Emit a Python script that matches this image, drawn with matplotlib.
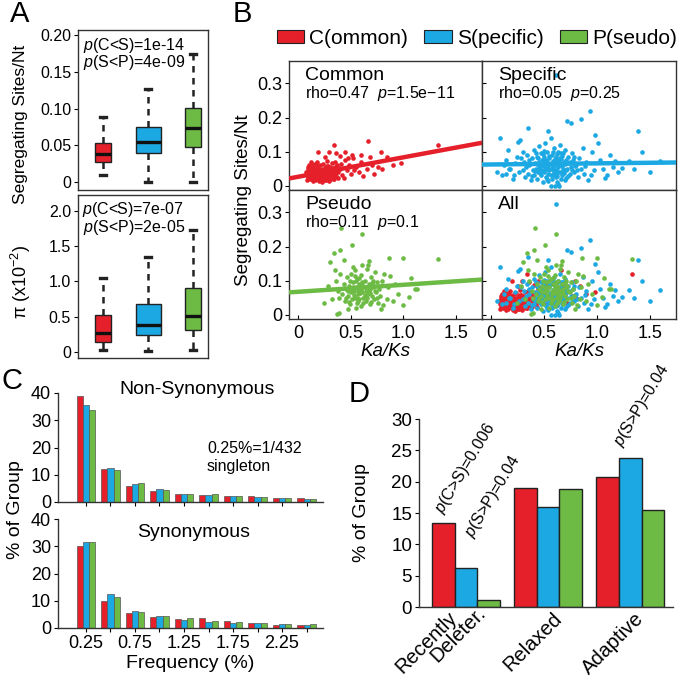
import numpy as np
import matplotlib
matplotlib.use("Agg")
import matplotlib.pyplot as plt
from matplotlib.patches import Patch
from matplotlib.transforms import ScaledTranslation

plt.rcParams['font.family'] = ['Liberation Sans', 'DejaVu Sans']
plt.rcParams['mathtext.fontset'] = 'custom'
plt.rcParams['mathtext.rm'] = 'Liberation Sans'
plt.rcParams['mathtext.it'] = 'Liberation Sans:italic'

RED = '#E5202A'
BLUE = '#1CA8E3'
GREEN = '#6DBB45'
COLORS = [RED, BLUE, GREEN]

# ---- panel A : box plot stats (q1, median, q3, whisker low, whisker high)
groups = ['C', 'S', 'P']
seg_q1 = [0.027, 0.040, 0.047]
seg_med = [0.038, 0.055, 0.073]
seg_q3 = [0.053, 0.075, 0.101]
seg_lo = [0.009, 0.0, 0.0]
seg_hi = [0.089, 0.127, 0.174]
seg_pvals = ['$\\it{p}$(C<S)=1e-14', '$\\it{p}$(S<P)=4e-09']

pi_q1 = [0.14, 0.24, 0.31]
pi_med = [0.27, 0.38, 0.51]
pi_q3 = [0.52, 0.68, 0.90]
pi_lo = [0.03, 0.02, 0.03]
pi_hi = [1.04, 1.34, 1.72]
pi_pvals = ['$\\it{p}$(C<S)=7e-07', '$\\it{p}$(S<P)=2e-05']
box_widths = [0.36, 0.56, 0.36]

# ---- panel B : Ka/Ks vs segregating sites/Nt
common_ka = [0.08, 0.09, 0.10, 0.10, 0.11, 0.12, 0.12, 0.13, 0.14, 0.14, 0.15, 0.15, 0.16, 0.16, 0.17, 0.17,
             0.18, 0.18, 0.19, 0.19, 0.20, 0.20, 0.21, 0.21, 0.22, 0.22, 0.23, 0.23, 0.24, 0.24, 0.25, 0.25,
             0.26, 0.26, 0.27, 0.27, 0.28, 0.28, 0.29, 0.29, 0.30, 0.30, 0.31, 0.31, 0.32, 0.32, 0.33, 0.33,
             0.34, 0.35, 0.35, 0.12, 0.18, 0.27, 0.09, 0.36, 0.38, 0.37, 0.14, 0.22, 0.11, 0.13, 0.20, 0.24,
             0.28, 0.31, 0.16, 0.26, 0.33, 0.19,
             0.07, 0.08, 0.09, 0.10, 0.11, 0.12, 0.13, 0.13, 0.15, 0.16, 0.17, 0.18, 0.19, 0.20, 0.21, 0.22,
             0.23, 0.24, 0.25, 0.26, 0.27, 0.28, 0.29, 0.30, 0.31, 0.32, 0.33, 0.34, 0.10, 0.14, 0.18, 0.22,
             0.26, 0.30, 0.16, 0.24, 0.21, 0.29, 0.36, 0.38, 0.39, 0.35,
             0.40, 0.42, 0.44, 0.46, 0.48, 0.50, 0.52, 0.55, 0.58, 0.60, 0.62, 0.65, 0.68, 0.70, 0.72, 0.76,
             0.80, 0.84, 0.90, 0.98, 0.43, 0.53, 0.41,
             0.19, 0.29, 0.34, 0.40, 0.44, 0.51, 0.60, 0.66, 0.79, 1.33, 0.25, 0.36, 0.47]
common_seg = [0.030, 0.022, 0.035, 0.045, 0.018, 0.028, 0.052, 0.038, 0.024, 0.060, 0.032, 0.044, 0.015, 0.027, 0.050, 0.036,
              0.021, 0.041, 0.030, 0.056, 0.012, 0.025, 0.047, 0.035, 0.019, 0.029, 0.040, 0.062, 0.024, 0.033, 0.052, 0.016,
              0.038, 0.028, 0.045, 0.021, 0.034, 0.058, 0.026, 0.042, 0.018, 0.031, 0.048, 0.037, 0.024, 0.065, 0.030, 0.043,
              0.020, 0.035, 0.055, 0.070, 0.068, 0.072, 0.055, 0.027, 0.040, 0.060, 0.012, 0.011, 0.040, 0.047, 0.033, 0.044,
              0.048, 0.026, 0.037, 0.054, 0.052, 0.019,
              0.040, 0.015, 0.048, 0.027, 0.032, 0.040, 0.020, 0.055, 0.050, 0.042, 0.025, 0.033, 0.045, 0.038, 0.022, 0.050,
              0.030, 0.043, 0.027, 0.048, 0.058, 0.020, 0.035, 0.055, 0.025, 0.040, 0.018, 0.050, 0.060, 0.048, 0.058, 0.036,
              0.015, 0.040, 0.062, 0.020, 0.060, 0.014, 0.045, 0.022, 0.052, 0.068,
              0.050, 0.030, 0.075, 0.045, 0.060, 0.035, 0.082, 0.055, 0.040, 0.070, 0.028, 0.050, 0.085, 0.060, 0.035, 0.055,
              0.050, 0.085, 0.060, 0.065, 0.022, 0.045, 0.062,
              0.100, 0.100, 0.120, 0.088, 0.100, 0.090, 0.090, 0.130, 0.100, 0.120, 0.085, 0.095, 0.080]

specific_ka = [0.30, 0.31, 0.32, 0.33, 0.34, 0.35, 0.36, 0.37, 0.38, 0.39, 0.40, 0.40, 0.41, 0.42, 0.43, 0.43,
               0.44, 0.45, 0.45, 0.46, 0.47, 0.47, 0.48, 0.48, 0.49, 0.49, 0.50, 0.50, 0.51, 0.51, 0.52, 0.52,
               0.53, 0.53, 0.54, 0.54, 0.55, 0.55, 0.56, 0.56, 0.57, 0.57, 0.58, 0.58, 0.59, 0.59, 0.60, 0.60,
               0.61, 0.61, 0.62, 0.62, 0.63, 0.63, 0.64, 0.64, 0.65, 0.65, 0.66, 0.67, 0.67, 0.68, 0.69, 0.70,
               0.70, 0.71, 0.72, 0.73, 0.74, 0.75, 0.76, 0.77, 0.78, 0.80, 0.82, 0.83, 0.85, 0.87, 0.88, 0.90,
               0.56, 0.62, 0.46, 0.53, 0.58, 0.66, 0.50, 0.44, 0.71, 0.57,
               0.36, 0.38, 0.41, 0.42, 0.44, 0.46, 0.48, 0.49, 0.51, 0.52, 0.53, 0.55, 0.56, 0.57, 0.58, 0.59,
               0.60, 0.61, 0.62, 0.63, 0.64, 0.65, 0.66, 0.67, 0.68, 0.69, 0.71, 0.72, 0.73, 0.74, 0.76, 0.78,
               0.79, 0.81, 0.47, 0.54, 0.59, 0.63, 0.68, 0.50, 0.45, 0.70, 0.52, 0.61, 0.57, 0.66,
               0.05, 0.08, 0.10, 0.12, 0.14, 0.14, 0.16, 0.18, 0.20, 0.22, 0.25, 0.26, 0.27, 0.28, 0.35, 0.54,
               0.61, 0.72, 0.75, 0.85, 0.93, 0.95, 0.97, 1.01, 1.03, 1.06, 1.10, 1.12, 1.17, 1.20, 1.24, 1.30,
               1.39, 1.43, 1.50, 1.60, 0.92, 0.98, 1.15, 0.21, 0.17, 0.24, 0.30, 0.89, 1.08, 1.35, 0.94]
specific_seg = [0.045, 0.070, 0.025, 0.055, 0.090, 0.035, 0.060, 0.015, 0.080, 0.045, 0.105, 0.030, 0.065, 0.050, 0.085, 0.020,
                0.040, 0.070, 0.115, 0.055, 0.030, 0.095, 0.045, 0.075, 0.010, 0.060, 0.085, 0.040, 0.125, 0.065, 0.025, 0.050,
                0.100, 0.070, 0.035, 0.058, 0.080, 0.045, 0.140, 0.062, 0.020, 0.090, 0.052, 0.072, 0.038, 0.110, 0.060, 0.000,
                0.085, 0.045, 0.068, 0.028, 0.098, 0.055, 0.000, 0.075, 0.040, 0.120, 0.060, 0.088, 0.030, 0.050, 0.070, 0.105,
                0.015, 0.045, 0.065, 0.085, 0.035, 0.055, 0.095, 0.075, 0.040, 0.060, 0.025, 0.080, 0.050, 0.110, 0.035, 0.068,
                0.000, 0.010, 0.063, 0.048, 0.030, 0.078, 0.057, 0.082, 0.022, 0.052,
                0.075, 0.028, 0.042, 0.095, 0.060, 0.038, 0.066, 0.092, 0.047, 0.075, 0.018, 0.088, 0.032, 0.066, 0.100, 0.042,
                0.078, 0.025, 0.092, 0.040, 0.062, 0.080, 0.020, 0.058, 0.095, 0.038, 0.075, 0.050, 0.028, 0.070, 0.045, 0.085,
                0.058, 0.045, 0.065, 0.012, 0.065, 0.005, 0.040, 0.102, 0.050, 0.062, 0.072, 0.035, 0.048, 0.095,
                0.040, 0.140, 0.030, 0.060, 0.075, 0.035, 0.105, 0.050, 0.020, 0.065, 0.127, 0.040, 0.135, 0.080, 0.170, 0.160,
                0.326, 0.190, 0.185, 0.195, 0.220, 0.100, 0.045, 0.125, 0.075, 0.050, 0.030, 0.090, 0.073, 0.040, 0.053, 0.073,
                0.160, 0.100, 0.040, 0.073, 0.015, 0.150, 0.055, 0.030, 0.050, 0.085, 0.100, 0.058, 0.022, 0.050, 0.032]

pseudo_ka = [0.42, 0.43, 0.44, 0.45, 0.46, 0.47, 0.48, 0.49, 0.50, 0.50, 0.51, 0.52, 0.53, 0.54, 0.54, 0.55,
             0.56, 0.56, 0.57, 0.58, 0.58, 0.59, 0.60, 0.60, 0.61, 0.62, 0.62, 0.63, 0.64, 0.64, 0.65, 0.66,
             0.67, 0.68, 0.68, 0.69, 0.70, 0.71, 0.72, 0.73, 0.74, 0.75, 0.76, 0.77, 0.78, 0.80, 0.81, 0.79,
             0.84, 0.85, 0.38, 0.36, 0.40, 0.39, 0.52, 0.66, 0.55, 0.47, 0.60, 0.57, 0.63, 0.70,
             0.45, 0.47, 0.49, 0.51, 0.53, 0.55, 0.57, 0.59, 0.61, 0.63, 0.65, 0.67, 0.69, 0.71, 0.73, 0.75,
             0.48, 0.52, 0.56, 0.60, 0.64, 0.68, 0.72, 0.58, 0.62, 0.54,
             0.41, 0.61, 0.51, 0.34, 0.40, 0.43, 0.30, 0.61, 0.67, 0.86, 1.00, 1.33, 0.87, 1.07, 1.11, 1.13,
             1.05, 1.00, 0.32, 0.24, 0.37, 0.39, 0.92, 0.95, 0.28, 0.82, 0.90, 0.35]
pseudo_seg = [0.060, 0.090, 0.040, 0.075, 0.110, 0.055, 0.085, 0.030, 0.065, 0.120, 0.045, 0.095, 0.070, 0.050, 0.130, 0.080,
              0.035, 0.105, 0.060, 0.090, 0.045, 0.075, 0.115, 0.025, 0.065, 0.085, 0.050, 0.100, 0.070, 0.040, 0.135, 0.060,
              0.090, 0.030, 0.075, 0.110, 0.055, 0.080, 0.045, 0.125, 0.065, 0.095, 0.035, 0.075, 0.055, 0.100, 0.027, 0.015,
              0.045, 0.080, 0.070, 0.100, 0.120, 0.050, 0.140, 0.145, 0.020, 0.015, 0.072, 0.068, 0.082, 0.092,
              0.050, 0.068, 0.100, 0.078, 0.058, 0.098, 0.040, 0.062, 0.095, 0.058, 0.048, 0.072, 0.038, 0.100, 0.068, 0.050,
              0.038, 0.082, 0.050, 0.088, 0.055, 0.062, 0.085, 0.108, 0.035, 0.112,
              0.253, 0.238, 0.203, 0.180, 0.190, 0.160, 0.155, 0.147, 0.157, 0.167, 0.167, 0.164, 0.112, 0.107, 0.076, 0.076,
              0.053, 0.027, 0.047, 0.035, 0.003, 0.005, 0.090, 0.060, 0.085, 0.120, 0.040, 0.130]

# regression lines (intercept, slope)
fit_common = (0.026, 0.057)
fit_specific = (0.062, 0.0033)
fit_pseudo = (0.067, 0.0205)
rho_text = ['rho=0.47  $\\it{p}$=1.5e\u221211', 'rho=0.05  $\\it{p}$=0.25', 'rho=0.11  $\\it{p}$=0.1']

# ---- panel C : site frequency spectrum
freq_labels = ['0.25', '', '0.75', '', '1.25', '', '1.75', '', '2.25', '']
nonsyn = {
    'C': [38.8, 12.1, 6.0, 3.9, 2.9, 2.4, 2.1, 2.1, 1.3, 1.3],
    'S': [35.7, 12.3, 6.5, 4.6, 3.0, 2.6, 2.1, 1.7, 1.6, 1.2],
    'P': [33.9, 11.8, 6.8, 4.3, 3.0, 2.8, 2.1, 2.0, 1.6, 1.2],
}
syn = {
    'C': [30.1, 10.0, 5.5, 4.0, 3.4, 3.7, 2.6, 1.7, 1.2, 1.0],
    'S': [31.6, 12.4, 6.1, 4.3, 3.0, 2.1, 2.0, 1.7, 1.6, 1.2],
    'P': [31.7, 11.5, 5.9, 4.3, 3.5, 2.7, 2.3, 1.9, 1.5, 1.5],
}

# ---- panel D : selection categories
sel_cats = ['Recently\nDeleter.', 'Relaxed', 'Adaptive']
sel_vals = {
    'C': [13.4, 19.0, 20.7],
    'S': [6.2, 16.0, 23.8],
    'P': [1.1, 18.9, 15.4],
}

W, H = 680, 681
fig = plt.figure(figsize=(6.8, 6.81), dpi=100)


def ax_px(x0, y0, x1, y1):
    # axes from pixel box (top-left origin)
    return fig.add_axes([x0 / W, 1 - y1 / H, (x1 - x0) / W, (y1 - y0) / H])


def ftext(x, y, s, **kw):
    fig.text(x / W, 1 - y / H, s, **kw)


# ================= A =================
def draw_box(ax, q1, med, q3, lo, hi):
    stats = []
    for i in range(3):
        stats.append(dict(q1=q1[i], med=med[i], q3=q3[i], whislo=lo[i], whishi=hi[i], fliers=[]))
    bp = ax.bxp(stats, positions=[1, 2, 3], widths=box_widths, patch_artist=True, showfliers=False,
                capwidths=0.13, manage_ticks=False,
                boxprops=dict(edgecolor='#222222', linewidth=1.0),
                whiskerprops=dict(color='#222222', linewidth=1.8, linestyle=(0, (2.6, 2.2))),
                capprops=dict(color='#222222', linewidth=2.4),
                medianprops=dict(color='#111111', linewidth=2.4))
    for patch, c in zip(bp['boxes'], COLORS):
        patch.set_facecolor(c)
    ax.set_xlim(0.44, 3.33)
    ax.set_xticks([])
    ax.tick_params(axis='y', labelsize=11.5, length=3, width=0.8, pad=2)
    for s in ax.spines.values():
        s.set_linewidth(1.0)
        s.set_color('#333333')


axA1 = ax_px(78, 30, 208, 190)
draw_box(axA1, seg_q1, seg_med, seg_q3, seg_lo, seg_hi)
axA1.set_ylim(-0.011, 0.207)
axA1.set_yticks([0, 0.05, 0.10, 0.15, 0.20])
axA1.set_yticklabels(['0', '0.05', '0.10', '0.15', '0.20'])
axA1.text(0.04, 0.905, seg_pvals[0], transform=axA1.transAxes, fontsize=11.5, va='center')
axA1.text(0.04, 0.795, seg_pvals[1], transform=axA1.transAxes, fontsize=11.5, va='center')

axA2 = ax_px(78, 195, 208, 358)
draw_box(axA2, pi_q1, pi_med, pi_q3, pi_lo, pi_hi)
axA2.set_ylim(-0.085, 2.22)
axA2.set_yticks([0, 0.5, 1.0, 1.5, 2.0])
axA2.set_yticklabels(['0', '0.5', '1.0', '1.5', '2.0'])
axA2.text(0.03, 0.912, pi_pvals[0], transform=axA2.transAxes, fontsize=11.5, va='center')
axA2.text(0.04, 0.80, pi_pvals[1], transform=axA2.transAxes, fontsize=11.5, va='center')

ftext(21, 124, 'Segregating Sites/Nt', rotation=90, ha='center', va='center', fontsize=12.5)
ftext(21, 282, '\u03c0 (x10$^{-2}$)', rotation=90, ha='center', va='center', fontsize=13)

# ================= B =================
XL = (-0.09, 1.75)
axB = [ax_px(289, 61, 482, 190), ax_px(482, 61, 676, 190),
       ax_px(289, 190, 482, 319), ax_px(482, 190, 676, 319)]
sets = [(common_ka, common_seg, RED), (specific_ka, specific_seg, BLUE), (pseudo_ka, pseudo_seg, GREEN)]
fits = [fit_common, fit_specific, fit_pseudo]
names = ['Common', 'Specific', 'Pseudo']
xline = np.array(XL)
for i in range(3):
    ax = axB[i]
    ka, seg, c = sets[i]
    ax.scatter(ka, seg, s=11, color=c, linewidths=0, zorder=2)
    b0, b1 = fits[i]
    ax.plot(xline, b0 + b1 * xline, color=c, lw=3.2, zorder=3, solid_capstyle='butt')
    ax.text(0.085, 0.885, names[i], transform=ax.transAxes, fontsize=14, va='center')
    ax.text(0.085, 0.745, rho_text[i], transform=ax.transAxes, fontsize=11.5, va='center')
for ka, seg, c in sets:
    axB[3].scatter(ka, seg, s=11, color=c, linewidths=0, zorder=2)
axB[3].text(0.08, 0.885, 'All', transform=axB[3].transAxes, fontsize=14, va='center')

for j, ax in enumerate(axB):
    ax.set_xlim(*XL)
    ax.set_ylim(-0.013, 0.366)
    ax.set_yticks([0, 0.1, 0.2, 0.3])
    ax.set_xticks([0, 0.5, 1.0, 1.5])
    for s in ax.spines.values():
        s.set_linewidth(1.0)
        s.set_color('#333333')
    if j in (0, 2):
        ax.set_yticklabels(['0', '0.1', '0.2', '0.3'])
        ax.tick_params(axis='y', direction='out', length=3, labelsize=13, pad=2)
    else:
        ax.set_yticklabels([])
        ax.tick_params(axis='y', direction='in', length=3)
    if j in (2, 3):
        ax.set_xticklabels(['0', '0.5', '1.0', '1.5'])
        ax.tick_params(axis='x', direction='in', length=3, labelsize=13, pad=4)
        ax.set_xlabel('Ka/Ks', fontsize=13.5, fontstyle='italic', labelpad=1)
    else:
        ax.set_xticklabels([])
        ax.tick_params(axis='x', length=0)

ftext(243, 200, 'Segregating Sites/Nt', rotation=90, ha='center', va='center', fontsize=13.5)

handles = [Patch(facecolor=c, edgecolor='#222222', linewidth=0.8) for c in COLORS]
fig.legend(handles, ['C(ommon)', 'S(pecific)', 'P(seudo)'], loc='center',
           bbox_to_anchor=(477 / W, 1 - 38 / H), ncol=3, frameon=False, fontsize=15,
           handlelength=1.3, handleheight=0.6, handletextpad=0.25, columnspacing=0.8, borderpad=0)

# ================= C =================
xi = np.arange(len(freq_labels))
bw = 0.25


def draw_sfs(ax, data):
    for k, (g, c) in enumerate(zip(groups, COLORS)):
        ax.bar(xi + (k - 1) * bw, data[g], width=bw, color=c, edgecolor='#555555', linewidth=0.5)
    ax.set_xlim(-1.14, 9.67)
    ax.set_ylim(0, 40)
    ax.set_yticks([0, 10, 20, 30, 40])
    ax.set_xticks(xi)
    for s in ['top', 'right']:
        ax.spines[s].set_visible(False)
    for s in ['left', 'bottom']:
        ax.spines[s].set_linewidth(1.0)
        ax.spines[s].set_color('#333333')
    ax.tick_params(axis='both', length=3, labelsize=13, pad=2)


axC1 = ax_px(58, 393, 323, 502)
draw_sfs(axC1, nonsyn)
axC1.set_xticklabels([])
axC1.text(0.525, 1.03, 'Non-Synonymous', transform=axC1.transAxes, ha='center', va='center', fontsize=14)
axC1.text(0.562, 0.41, '0.25%=1/432\nsingleton', transform=axC1.transAxes, ha='left', va='center',
          fontsize=11.5, linespacing=1.2)

axC2 = ax_px(58, 519, 323, 628)
draw_sfs(axC2, syn)
axC2.set_xticklabels(freq_labels)
axC2.text(0.51, 0.88, 'Synonymous', transform=axC2.transAxes, ha='center', va='center', fontsize=14)
axC2.set_xlabel('Frequency (%)', fontsize=14, labelpad=2)

ftext(15, 510, '% of Group', rotation=90, ha='center', va='center', fontsize=14)

# ================= D =================
axD = ax_px(419, 419, 673, 607)
xd = np.arange(len(sel_cats))
dw = 0.275
for k, (g, c) in enumerate(zip(groups, COLORS)):
    axD.bar(xd + (k - 1) * dw, sel_vals[g], width=dw, color=c, edgecolor='#222222', linewidth=1.0)
axD.set_xlim(-0.57, 2.52)
axD.set_ylim(0, 30)
axD.set_yticks([0, 5, 10, 15, 20, 25, 30])
axD.set_xticks(xd)
axD.set_xticklabels([])
axD.tick_params(axis='x', length=0)
axD.tick_params(axis='y', length=3, labelsize=13.5, pad=2)
for s in ['top', 'right']:
    axD.spines[s].set_visible(False)
for s in ['left', 'bottom']:
    axD.spines[s].set_linewidth(1.0)
    axD.spines[s].set_color('#333333')

# category labels, one text per line, rotated 45 deg
for i, cat in enumerate(sel_cats):
    lines = cat.split('\n')
    offs = [(4, 2)] if len(lines) == 1 else [(-18, 1), (10, -4)]
    for line, (dx, dy) in zip(lines, offs):
        tr = axD.get_xaxis_transform() + ScaledTranslation(dx / 100, -dy / 100, fig.dpi_scale_trans)
        axD.text(i, 0, line, transform=tr, rotation=45, rotation_mode='anchor',
                 ha='right', va='top', fontsize=14.5)

axD.text(-0.23, sel_vals['C'][0] + 0.9, '$\\it{p}$(C>S)=0.006', rotation=59, rotation_mode='anchor',
         ha='left', va='bottom', fontsize=11.5)
axD.text(0.13, sel_vals['S'][0] + 4.3, '$\\it{p}$(S>P)=0.04', rotation=59, rotation_mode='anchor',
         ha='left', va='bottom', fontsize=11.5)
axD.text(1.95, sel_vals['S'][2] + 1.2, '$\\it{p}$(S>P)=0.04', rotation=59, rotation_mode='anchor',
         ha='left', va='bottom', fontsize=11.5)

ftext(361, 513, '% of Group', rotation=90, ha='center', va='center', fontsize=14)

# panel letters
ftext(20, 14, 'A', ha='center', va='center', fontsize=21)
ftext(242, 14, 'B', ha='center', va='center', fontsize=21)
ftext(12, 381, 'C', ha='center', va='center', fontsize=21)
ftext(359, 394, 'D', ha='center', va='center', fontsize=21)

fig.savefig('out.png', dpi=100)
